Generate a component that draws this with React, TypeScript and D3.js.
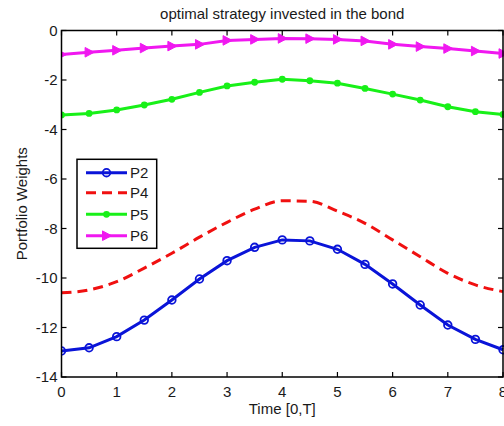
import React from "react";
import * as d3 from "d3";

const times = [0, 0.5, 1, 1.5, 2, 2.5, 3, 3.5, 4, 4.5, 5, 5.5, 6, 6.5, 7, 7.5, 8];
const p2 = [-12.95, -12.82, -12.37, -11.7, -10.89, -10.04, -9.3, -8.76, -8.46, -8.5, -8.84, -9.45, -10.24, -11.09, -11.9, -12.48, -12.9];
const p4 = [-10.6, -10.48, -10.15, -9.6, -9.0, -8.35, -7.75, -7.22, -6.88, -6.9, -7.3, -7.79, -8.46, -9.14, -9.81, -10.28, -10.55];
const p5 = [-3.41, -3.35, -3.21, -3.01, -2.78, -2.5, -2.24, -2.09, -1.97, -2.03, -2.13, -2.34, -2.57, -2.81, -3.08, -3.28, -3.39];
const p6 = [-0.97, -0.88, -0.8, -0.71, -0.63, -0.56, -0.4, -0.36, -0.32, -0.33, -0.36, -0.42, -0.56, -0.65, -0.73, -0.83, -0.93];
const xTicks = [0, 1, 2, 3, 4, 5, 6, 7, 8];
const yTicks = [0, -2, -4, -6, -8, -10, -12, -14];
const seriesNames = ["P2", "P4", "P5", "P6"];

const W = 504, H = 426;
const L = 61.5, R = 503, T = 30.5, B = 377;
const FONT = "'Liberation Sans', Arial, sans-serif";
const TXT = "#1a1a1a";

const BLUE = "#0a14d8";
const RED = "#f01010";
const GREEN = "#18f018";
const MAG = "#f018f0";

export default function App() {
  const x = d3.scaleLinear().domain([0, 8]).range([L, R]);
  const y = d3.scaleLinear().domain([-14, 0]).range([B, T]);

  const mk = (vals: number[], curve: any) =>
    d3.line<number>().x((_, i) => x(times[i])).y((v) => y(v)).curve(curve)(vals) || "";

  const tri = (cx: number, cy: number) =>
    `M${cx - 4},${cy - 4.8}L${cx + 5},${cy}L${cx - 4},${cy + 4.8}Z`;

  const legendY = [172.7, 192.7, 214.3, 235.7];
  const lx0 = 86, lx1 = 127, lmid = 106.5;

  return (
    <svg width={W} height={H} style={{ position: "fixed", left: 0, top: 0, background: "#fff" }} fontFamily={FONT}>
      <rect x={0} y={0} width={W} height={H} fill="#fff" />
      <defs>
        <clipPath id="plot">
          <rect x={L} y={T - 6} width={R - L + 6} height={B - T + 12} />
        </clipPath>
      </defs>

      {/* title */}
      <text x={(L + R) / 2} y={18.5} textAnchor="middle" fontSize={15} fill={TXT}>
        optimal strategy invested in the bond
      </text>

      <g clipPath="url(#plot)">
        <path d={mk(p6, d3.curveLinear)} fill="none" stroke={MAG} strokeWidth={3} />
        {p6.map((v, i) => (
          <path key={"m" + i} d={tri(x(times[i]), y(v))} fill={MAG} stroke={MAG} strokeWidth={1} />
        ))}
        <path d={mk(p5, d3.curveLinear)} fill="none" stroke={GREEN} strokeWidth={3} />
        {p5.map((v, i) => (
          <circle key={"g" + i} cx={x(times[i])} cy={y(v)} r={3.4} fill={GREEN} />
        ))}
        <path d={mk(p4, d3.curveMonotoneX)} fill="none" stroke={RED} strokeWidth={3} strokeDasharray="10 6" />
        <path d={mk(p2, d3.curveLinear)} fill="none" stroke={BLUE} strokeWidth={3} />
        {p2.map((v, i) => (
          <circle key={"b" + i} cx={x(times[i])} cy={y(v)} r={3.8} fill="none" stroke={BLUE} strokeWidth={1.8} />
        ))}
      </g>

      {/* axes box */}
      <rect x={L} y={T} width={R - L} height={B - T} fill="none" stroke="#000" strokeWidth={1.5} />
      {xTicks.map((t) => (
        <g key={"xt" + t}>
          <line x1={x(t)} x2={x(t)} y1={B} y2={B - 5} stroke="#000" strokeWidth={1.2} />
          <line x1={x(t)} x2={x(t)} y1={T} y2={T + 5} stroke="#000" strokeWidth={1.2} />
          <text x={x(t)} y={396.5} textAnchor="middle" fontSize={15} fill={TXT}>{t}</text>
        </g>
      ))}
      {yTicks.map((t) => (
        <g key={"yt" + t}>
          <line x1={L} x2={L + 5} y1={y(t)} y2={y(t)} stroke="#000" strokeWidth={1.2} />
          <line x1={R} x2={R - 5} y1={y(t)} y2={y(t)} stroke="#000" strokeWidth={1.2} />
          <text x={57.5} y={y(t) + 5.3} textAnchor="end" fontSize={15} fill={TXT}>{t}</text>
        </g>
      ))}

      <text x={(L + R) / 2} y={414} textAnchor="middle" fontSize={15} fill={TXT}>Time [0,T]</text>
      <text transform={`translate(26.5,${(T + B) / 2}) rotate(-90)`} textAnchor="middle" fontSize={15} fill={TXT}>
        Portfolio Weights
      </text>

      {/* legend */}
      <rect x={77} y={159.3} width={79.7} height={89} fill="#fff" stroke="#000" strokeWidth={1.5} />
      <line x1={lx0} x2={lx1} y1={legendY[0]} y2={legendY[0]} stroke={BLUE} strokeWidth={3} />
      <circle cx={lmid} cy={legendY[0]} r={3.8} fill="none" stroke={BLUE} strokeWidth={1.8} />
      <line x1={lx0} x2={lx1} y1={legendY[1]} y2={legendY[1]} stroke={RED} strokeWidth={3} strokeDasharray="10 6" />
      <line x1={lx0} x2={lx1} y1={legendY[2]} y2={legendY[2]} stroke={GREEN} strokeWidth={3} />
      <circle cx={lmid} cy={legendY[2]} r={3.4} fill={GREEN} />
      <line x1={lx0} x2={lx1} y1={legendY[3]} y2={legendY[3]} stroke={MAG} strokeWidth={3} />
      <path d={tri(lmid, legendY[3])} fill={MAG} stroke={MAG} strokeWidth={1} />
      {seriesNames.map((n, i) => (
        <text key={n} x={130} y={legendY[i] + 5.4} fontSize={15} fill={TXT}>{n}</text>
      ))}
    </svg>
  );
}
